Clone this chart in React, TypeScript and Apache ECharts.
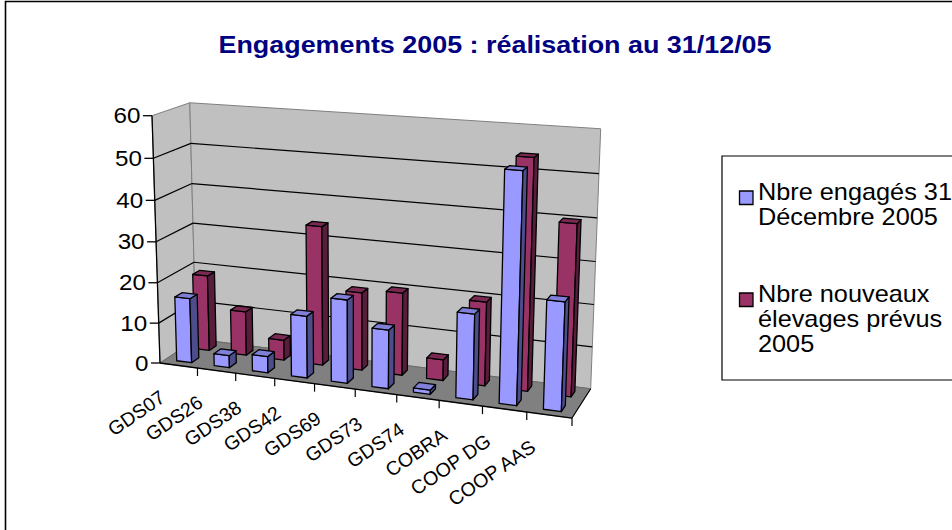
import React, { useEffect, useRef } from "react";
import * as echarts from "echarts";

// ---------- data ----------
const categories = ["GDS07", "GDS26", "GDS38", "GDS42", "GDS69", "GDS73", "GDS74", "COBRA", "COOP DG", "COOP AAS"];
const engages = [16, 3, 4, 15, 20, 14, 1, 20, 53, 25];
const prevus = [19, 11, 5, 34, 19, 20, 5, 20, 54, 40];
const yTicks = [0, 10, 20, 30, 40, 50, 60];
const yTickLabels = ["0", "10", "20", "30", "40", "50", "60"];
const seriesNames = ["Nbre engagés 31 Décembre 2005", "Nbre nouveaux élevages prévus 2005"];
const legendLines = [["Nbre engagés 31", "Décembre 2005"], ["Nbre nouveaux", "élevages prévus", "2005"]];
const titleText = "Engagements 2005 : réalisation au 31/12/05";

// ---------- perspective projection of the unit box (X: categories, Y: value, Z: depth) ----------
const O = [160, 363];
const CX = [355.1, 13.43, -0.0995];
const CY = [-13.92, -251.8, -0.039];
const CZ = [45.54, -7.44, 0.04865];
function P(X: number, Y: number, Z: number): number[] {
  const w = 1 + X * CX[2] + Y * CY[2] + Z * CZ[2];
  return [(O[0] + X * CX[0] + Y * CY[0] + Z * CZ[0]) / w, (O[1] + X * CX[1] + Y * CY[1] + Z * CZ[1]) / w];
}

const FONT = '"Liberation Sans", Arial, sans-serif';
const BLUE = { front: "#9999FF", side: "#4D4D8C", top: "#8080D9" };
const RED = { front: "#993366", side: "#571D3A", top: "#7A2952" };

function line(a: number[], b: number[], stroke: string, lw: number) {
  return { type: "line", shape: { x1: a[0], y1: a[1], x2: b[0], y2: b[1] }, style: { stroke, lineWidth: lw } };
}
function poly(pts: number[][], fill: string, stroke: string, lw: number) {
  return { type: "polygon", shape: { points: pts }, style: { fill, stroke, lineWidth: lw, lineJoin: "round" } };
}

function barRenderer(z0: number, col: { front: string; side: string; top: string }) {
  return (params: any, api: any) => {
    const cs = params.coordSys;
    const i = api.value(0);
    const v = api.value(1);
    const c = api.coord([i, v]);
    const xc = (c[0] - cs.x) / cs.width;
    const Y = (cs.y + cs.height - c[1]) / cs.height;
    const hw = (api.size([1, 0])[0] * 0.2) / cs.width;
    const x0 = xc - hw, x1 = xc + hw, z1 = z0 + 0.2;
    const lw = 1.3;
    return {
      type: "group",
      children: [
        poly([P(x0, 0, z0), P(x1, 0, z0), P(x1, Y, z0), P(x0, Y, z0)], col.front, "#000", lw),
        poly([P(x1, 0, z0), P(x1, 0, z1), P(x1, Y, z1), P(x1, Y, z0)], col.side, "#000", lw),
        poly([P(x0, Y, z0), P(x1, Y, z0), P(x1, Y, z1), P(x0, Y, z1)], col.top, "#000", lw),
      ],
    };
  };
}

function buildOption(): any {
  const walls = {
    type: "custom",
    z: 1,
    silent: true,
    clip: false,
    data: [[0, 0]],
    renderItem: () => ({
      type: "group",
      children: [
        poly([P(0, 0, 0), P(0, 1, 0), P(0, 1, 1), P(0, 0, 1)], "#C0C0C0", "#808080", 1),
        poly([P(0, 0, 1), P(0, 1, 1), P(1, 1, 1), P(1, 0, 1)], "#C0C0C0", "#808080", 1),
        poly([P(0, 0, 0), P(1, 0, 0), P(1, 0, 1), P(0, 0, 1)], "#808080", "#6a6a6a", 1),
        line(P(0, 0, 0), P(1, 0, 0), "#000", 1.3),
        line(P(1, 0, 0), P(1, 0, 1), "#000", 1.1),
        line(P(0, 0, 0), P(0, 1, 0), "#000", 1.3),
      ],
    }),
  };

  const grid = {
    type: "custom",
    z: 2,
    silent: true,
    clip: false,
    data: yTicks.map((t) => [0, t]),
    renderItem: (params: any, api: any) => {
      const cs = params.coordSys;
      const t = api.value(1);
      const py = api.coord([0, t])[1];
      const Y = (cs.y + cs.height - py) / cs.height;
      const a = P(0, Y, 0);
      const children: any[] = [];
      if (t > 0 && t < 60) {
        children.push(line(a, P(0, Y, 1), "#000", 1.2));
        children.push(line(P(0, Y, 1), P(1, Y, 1), "#000", 1.2));
      }
      children.push(line([a[0] - 9, a[1]], a, "#000", 1.3));
      children.push({
        type: "text",
        x: a[0] - 11.5,
        y: a[1],
        scaleX: 1.1,
        style: {
          text: yTickLabels[params.dataIndex],
          fontSize: 22,
          fontFamily: FONT,
          fill: "#000",
          textAlign: "right",
          textVerticalAlign: "middle",
        },
      });
      return { type: "group", children };
    },
  };

  const cats = {
    type: "custom",
    z: 2,
    silent: true,
    clip: false,
    data: categories.map((_, i) => [i, 0]),
    renderItem: (params: any, api: any) => {
      const cs = params.coordSys;
      const i = api.value(0);
      const c = api.coord([i, 0]);
      const hw = api.size([1, 0])[0] / 2;
      const xc = (c[0] - cs.x) / cs.width;
      const xr = (c[0] + hw - cs.x) / cs.width;
      const r = P(xr, 0, 0);
      const m = P(xc, 0, 0);
      return {
        type: "group",
        children: [
          line(r, [r[0], r[1] + 8], "#000", 1.2),
          {
            type: "text",
            x: m[0] - 16.2,
            y: m[1] + 29.4,
            rotation: 0.6,
            style: {
              text: categories[i],
              fontSize: 19.5,
              fontFamily: FONT,
              fill: "#000",
              textAlign: "right",
              textVerticalAlign: "middle",
            },
          },
        ],
      };
    },
  };

  const red = {
    type: "custom",
    name: seriesNames[1],
    z: 3,
    clip: false,
    data: prevus.map((v, i) => [i, v]),
    encode: { x: 0, y: 1 },
    renderItem: barRenderer(0.65, RED),
  };
  const blue = {
    type: "custom",
    name: seriesNames[0],
    z: 4,
    clip: false,
    data: engages.map((v, i) => [i, v]),
    encode: { x: 0, y: 1 },
    renderItem: barRenderer(0.15, BLUE),
  };

  const legendColors = [BLUE.front, RED.front];
  const legendTop = [192, 294];
  const legendEls: any[] = [
    { type: "rect", shape: { x: 722, y: 156, width: 400, height: 224 }, style: { fill: "#fff", stroke: "#000", lineWidth: 1.2 } },
  ];
  legendLines.forEach((lines, k) => {
    legendEls.push({
      type: "rect",
      shape: { x: 739.5, y: legendTop[k] - 1, width: 13.5, height: 13.5 },
      style: { fill: legendColors[k], stroke: "#000", lineWidth: 1.3 },
    });
    lines.forEach((txt, j) => {
      legendEls.push({
        type: "text",
        x: 758,
        y: legendTop[k] + j * 25,
        scaleX: 1.1,
        style: { text: txt, fontSize: 23, fontFamily: FONT, fill: "#000", textAlign: "left", textVerticalAlign: "middle" },
      });
    });
  });

  return {
    animation: false,
    backgroundColor: "#fff",
    grid: { left: 100, top: 100, width: 500, height: 300, show: false },
    xAxis: { type: "category", data: categories, show: false },
    yAxis: { type: "value", min: 0, max: 60, interval: 10, show: false },
    tooltip: { show: false },
    graphic: [
      {
        type: "rect",
        silent: true,
        shape: { x: 5.5, y: 1.5, width: 2000, height: 2000 },
        style: { fill: "none", stroke: "#000", lineWidth: 1.6 },
        z: 0,
      },
      {
        type: "text",
        x: 495,
        y: 45,
        scaleX: 1.17,
        style: {
          text: titleText,
          fontSize: 23,
          fontWeight: "bold",
          fontFamily: FONT,
          fill: "#000080",
          textAlign: "center",
          textVerticalAlign: "middle",
        },
      },
      ...legendEls,
    ],
    series: [walls, grid, cats, red, blue],
  };
}

export default function App() {
  const ref = useRef<HTMLDivElement>(null);
  useEffect(() => {
    const chart = echarts.init(ref.current as HTMLDivElement, null, { renderer: "svg" });
    chart.setOption(buildOption());
    return () => chart.dispose();
  }, []);
  return (
    <div
      ref={ref}
      style={{ position: "absolute", left: 0, top: 0, width: 952, height: 530, background: "#fff" }}
    />
  );
}
